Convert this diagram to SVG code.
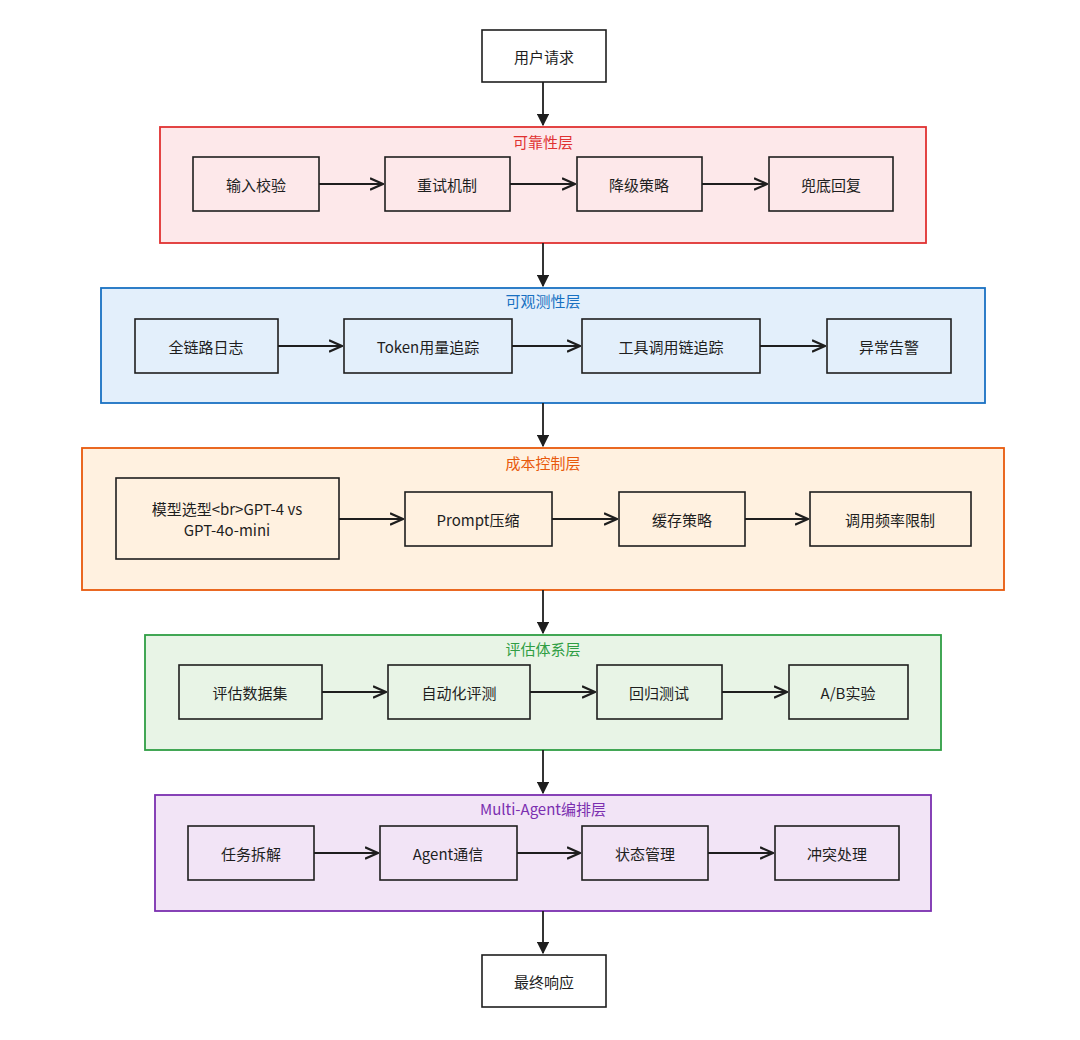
<svg xmlns="http://www.w3.org/2000/svg" width="1080" height="1040" viewBox="0 0 1080 1040">
<style>
text{font-family:"Noto Sans CJK SC","Noto Sans",sans-serif;font-size:15px;fill:#1e1e1e;text-anchor:middle;dominant-baseline:central}
.n{stroke:#1e1e1e;stroke-width:1.6}
.t{font-size:15px}
.c{stroke:#1e1e1e;stroke-width:1.8;fill:none;marker-end:url(#a)}
</style>
<defs><marker id="a" viewBox="0 0 10 10" refX="9" refY="5" markerWidth="8" markerHeight="8" orient="auto"><path d="M0,1 L9,5 L0,9" fill="none" stroke="#1e1e1e" stroke-width="1.5"/></marker>
<marker id="b" viewBox="0 0 10 10" refX="9" refY="5" markerWidth="7" markerHeight="7" orient="auto"><path d="M0,0 L10,5 L0,10z" fill="#1e1e1e"/></marker></defs>
<rect width="1080" height="1040" fill="#fff"/>
<g id="L1"><rect x="160" y="127" width="766" height="116" fill="#fde8ea" stroke="#e03131" stroke-width="1.8"/><text x="543" y="141" class="t" style="fill:#e03131">可靠性层</text></g>
<g id="L2"><rect x="101" y="288" width="884" height="115" fill="#e3effb" stroke="#1971c2" stroke-width="1.8"/><text x="543" y="300" style="fill:#1971c2">可观测性层</text></g>
<g id="L3"><rect x="82" y="448" width="922" height="142" fill="#fff1e0" stroke="#e8590c" stroke-width="1.8"/><text x="543" y="462" style="fill:#e8590c">成本控制层</text></g>
<g id="L4"><rect x="145" y="635" width="796" height="115" fill="#e8f4e6" stroke="#2f9e44" stroke-width="1.8"/><text x="543" y="648" style="fill:#2f9e44">评估体系层</text></g>
<g id="L5"><rect x="155" y="795" width="776" height="116" fill="#f2e4f6" stroke="#7b2fb0" stroke-width="1.8"/><text x="543" y="808" style="fill:#7b2fb0">Multi-Agent编排层</text></g>
<g id="connectors">
<path class="c" style="marker-end:url(#b)" d="M543,82V125"/>
<path class="c" style="marker-end:url(#b)" d="M543,243V286"/>
<path class="c" style="marker-end:url(#b)" d="M543,403V446"/>
<path class="c" style="marker-end:url(#b)" d="M543,590V633"/>
<path class="c" style="marker-end:url(#b)" d="M543,750V793"/>
<path class="c" style="marker-end:url(#b)" d="M543,911V953"/>
<path class="c" d="M319,184H383"/><path class="c" d="M510,184H575"/><path class="c" d="M702,184H767"/>
<path class="c" d="M278,346H342"/><path class="c" d="M512,346H580"/><path class="c" d="M760,346H825"/>
<path class="c" d="M339,519H403"/><path class="c" d="M552,519H617"/><path class="c" d="M745,519H808"/>
<path class="c" d="M322,692H386"/><path class="c" d="M530,692H595"/><path class="c" d="M722,692H787"/>
<path class="c" d="M314,853H378"/><path class="c" d="M517,853H580"/><path class="c" d="M708,853H773"/>
</g>
<g id="start"><rect class="n" x="482" y="30" width="124" height="52" fill="#fff"/><text x="544" y="56">用户请求</text></g>
<g id="end"><rect class="n" x="482" y="955" width="124" height="52" fill="#fff"/><text x="544" y="981">最终响应</text></g>
<g fill="#fde8ea">
<g id="n11"><rect class="n" x="193" y="157" width="126" height="54"/><text x="256" y="184">输入校验</text></g>
<g id="n12"><rect class="n" x="385" y="157" width="125" height="54"/><text x="447" y="184">重试机制</text></g>
<g id="n13"><rect class="n" x="577" y="157" width="125" height="54"/><text x="639" y="184">降级策略</text></g>
<g id="n14"><rect class="n" x="769" y="157" width="124" height="54"/><text x="831" y="184">兜底回复</text></g>
</g>
<g fill="#e3effb">
<g id="n21"><rect class="n" x="135" y="319" width="143" height="54"/><text x="206" y="346">全链路日志</text></g>
<g id="n22"><rect class="n" x="344" y="319" width="168" height="54"/><text x="428" y="346">Token用量追踪</text></g>
<g id="n23"><rect class="n" x="582" y="319" width="178" height="54"/><text x="671" y="346">工具调用链追踪</text></g>
<g id="n24"><rect class="n" x="827" y="319" width="124" height="54"/><text x="889" y="346">异常告警</text></g>
</g>
<g fill="#fff1e0">
<g id="n31"><rect class="n" x="116" y="478" width="223" height="81"/><text x="227" y="508">模型选型&lt;br&gt;GPT-4 vs</text><text x="227" y="529">GPT-4o-mini</text></g>
<g id="n32"><rect class="n" x="405" y="492" width="147" height="54"/><text x="478" y="519">Prompt压缩</text></g>
<g id="n33"><rect class="n" x="619" y="492" width="126" height="54"/><text x="682" y="519">缓存策略</text></g>
<g id="n34"><rect class="n" x="810" y="492" width="161" height="54"/><text x="890" y="519">调用频率限制</text></g>
</g>
<g fill="#e8f4e6">
<g id="n41"><rect class="n" x="179" y="665" width="143" height="54"/><text x="250" y="692">评估数据集</text></g>
<g id="n42"><rect class="n" x="388" y="665" width="142" height="54"/><text x="459" y="692">自动化评测</text></g>
<g id="n43"><rect class="n" x="597" y="665" width="125" height="54"/><text x="659" y="692">回归测试</text></g>
<g id="n44"><rect class="n" x="789" y="665" width="119" height="54"/><text x="848" y="692">A/B实验</text></g>
</g>
<g fill="#f2e4f6">
<g id="n51"><rect class="n" x="188" y="826" width="126" height="54"/><text x="251" y="853">任务拆解</text></g>
<g id="n52"><rect class="n" x="380" y="826" width="137" height="54"/><text x="448" y="853">Agent通信</text></g>
<g id="n53"><rect class="n" x="582" y="826" width="126" height="54"/><text x="645" y="853">状态管理</text></g>
<g id="n54"><rect class="n" x="775" y="826" width="124" height="54"/><text x="837" y="853">冲突处理</text></g>
</g>
</svg>
